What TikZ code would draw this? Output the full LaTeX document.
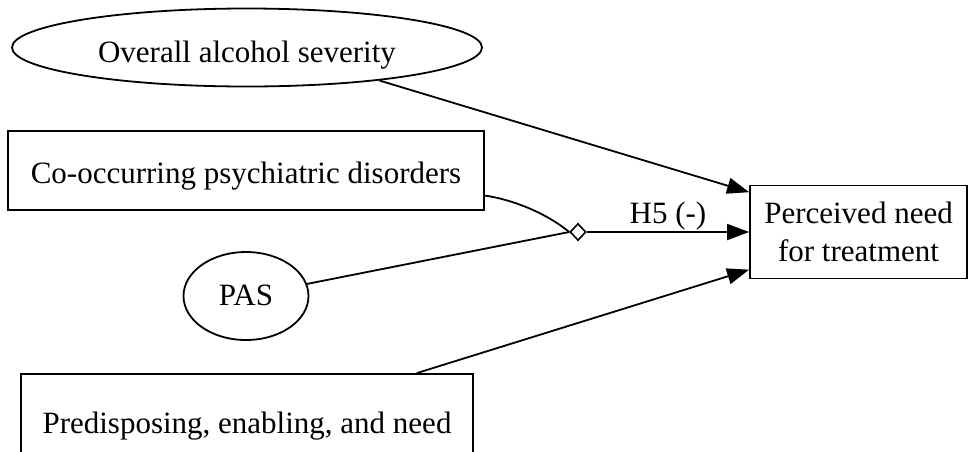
\documentclass[tikz,border=0pt]{standalone}
\usepackage{fontspec}
\setmainfont{Liberation Serif}
\usetikzlibrary{shapes.geometric,arrows.meta}
\begin{document}
\begin{tikzpicture}[x=1pt,y=-1pt,
  every node/.style={font=\fontsize{31}{38}\selectfont, inner sep=0pt},
  line/.style={line width=1.8pt, black},
  arr/.style={line, -{Triangle[length=22pt,width=16pt]}},
  latent/.style={ellipse, draw, line width=1.8pt},
  observed/.style={rectangle, draw, line width=1.8pt, align=center},
  junction/.style={diamond, draw, fill=white, line width=1.6pt, minimum width=16pt, minimum height=17pt}]
  \useasboundingbox (0,0) rectangle (968,451);
  \clip (0,0) rectangle (968,451);

  % predictors
  \node[latent, minimum width=470pt, minimum height=78pt, text height=29pt, text depth=0pt] (sev) at (247,47.5) {Overall alcohol severity};
  \node[observed, minimum width=476pt, minimum height=79pt, text height=25pt, text depth=0pt] (cooc) at (246,170.5) {Co-occurring psychiatric disorders};
  \node[latent, minimum width=125pt, minimum height=88pt, text height=20pt, text depth=2pt] (pas) at (246,296) {PAS};
  \node[observed, minimum width=452pt, minimum height=102pt, text height=22pt, text depth=6pt] (pred) at (247,425) {Predisposing, enabling, and need};

  % outcome
  \node[observed, minimum width=217pt, minimum height=93pt] (perc) at (858.5,232) {Perceived need\\for treatment};

  % interaction point
  \node[junction] (dia) at (578,232) {};

  % moderation inputs
  \draw[line] (cooc.-6.1) .. controls (510,199) and (545,212) .. (dia.west);
  \draw[line] (pas) -- (dia.west);

  % paths into the outcome
  \draw[arr] (sev.-14.7) -- (perc.160);
  \draw[arr] (dia.east) -- node[above=1pt] {H5 (-)} (perc.west);
  \draw[arr] (pred.17.4) -- (perc.199.5);
\end{tikzpicture}
\end{document}
